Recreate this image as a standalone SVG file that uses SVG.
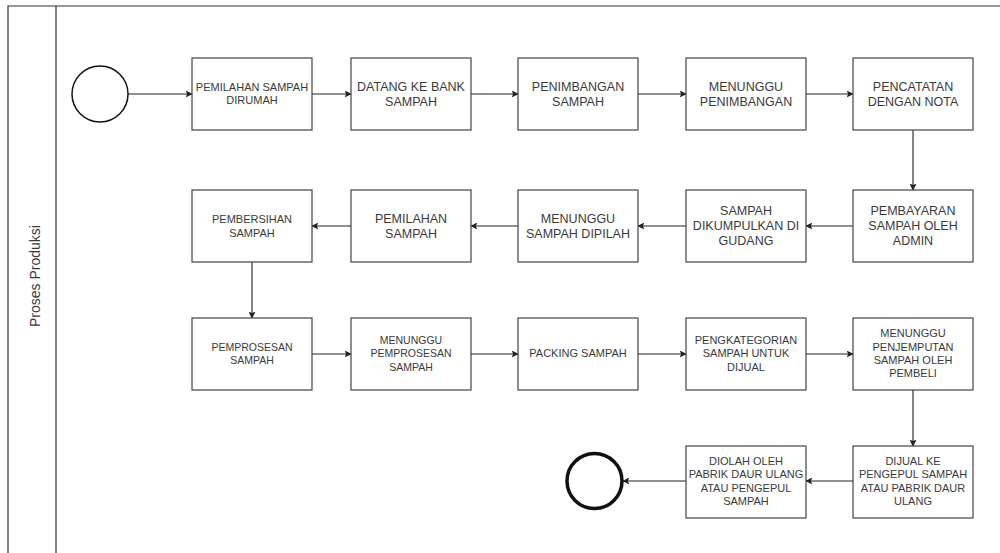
<svg xmlns="http://www.w3.org/2000/svg" width="1000" height="553" viewBox="0 0 1000 553">
<defs>
<style>
.box{fill:#fff;stroke:#444;stroke-width:1.2}
.t{font-family:"Liberation Sans",Arial,sans-serif;fill:#3a3a3a;text-anchor:middle}
.L{font-size:12.5px}
.S{font-size:11px}
.X{font-size:10.5px}
.c{fill:none;stroke:#222;stroke-width:1.1}
.lane{fill:none;stroke:#333;stroke-width:1.2}
</style>
<marker id="arr" viewBox="0 0 10 10" refX="9" refY="5" markerWidth="7" markerHeight="7" markerUnits="userSpaceOnUse" orient="auto">
<path d="M0,0 L10,5 L0,10 L2,5 z" fill="#222"/>
</marker>
</defs>
<rect width="1000" height="553" fill="#fff"/>
<g id="lane">
<path class="lane" d="M8,553 V6 H1000"/>
<path class="lane" d="M56,6 V553"/>
<text class="t" font-size="14" transform="translate(40,276) rotate(-90)">Proses Produksi</text>
</g>
<g id="connectors">
<path class="c" d="M128,94 H192" marker-end="url(#arr)"/>
<path class="c" d="M312,94 H351" marker-end="url(#arr)"/>
<path class="c" d="M471,94 H518" marker-end="url(#arr)"/>
<path class="c" d="M638,94 H686" marker-end="url(#arr)"/>
<path class="c" d="M806,94 H853" marker-end="url(#arr)"/>
<path class="c" d="M913,130 V190" marker-end="url(#arr)"/>
<path class="c" d="M853,226 H806" marker-end="url(#arr)"/>
<path class="c" d="M686,226 H638" marker-end="url(#arr)"/>
<path class="c" d="M518,226 H471" marker-end="url(#arr)"/>
<path class="c" d="M351,226 H312" marker-end="url(#arr)"/>
<path class="c" d="M252,262 V318" marker-end="url(#arr)"/>
<path class="c" d="M312,354 H351" marker-end="url(#arr)"/>
<path class="c" d="M471,354 H518" marker-end="url(#arr)"/>
<path class="c" d="M638,354 H686" marker-end="url(#arr)"/>
<path class="c" d="M806,354 H853" marker-end="url(#arr)"/>
<path class="c" d="M913,390 V446" marker-end="url(#arr)"/>
<path class="c" d="M853,481 H806" marker-end="url(#arr)"/>
<path class="c" d="M686,481 H623" marker-end="url(#arr)"/>
</g>
<g id="start"><circle cx="100" cy="94" r="28" fill="#fff" stroke="#111" stroke-width="1.5"/></g>
<g id="end"><circle cx="594.5" cy="481" r="27.5" fill="#fff" stroke="#111" stroke-width="3.5"/></g>
<g id="n1"><rect class="box" x="192" y="58" width="120" height="72"/><text class="t S"><tspan x="252" y="91.4">PEMILAHAN SAMPAH</tspan><tspan x="252" y="104.4">DIRUMAH</tspan></text></g>
<g id="n2"><rect class="box" x="351" y="58" width="120" height="72"/><text class="t L"><tspan x="411" y="91">DATANG KE BANK</tspan><tspan x="411" y="106">SAMPAH</tspan></text></g>
<g id="n3"><rect class="box" x="518" y="58" width="120" height="72"/><text class="t L"><tspan x="578" y="91">PENIMBANGAN</tspan><tspan x="578" y="106">SAMPAH</tspan></text></g>
<g id="n4"><rect class="box" x="686" y="58" width="120" height="72"/><text class="t L"><tspan x="746" y="91">MENUNGGU</tspan><tspan x="746" y="106">PENIMBANGAN</tspan></text></g>
<g id="n5"><rect class="box" x="853" y="58" width="120" height="72"/><text class="t L"><tspan x="913" y="91">PENCATATAN</tspan><tspan x="913" y="106">DENGAN NOTA</tspan></text></g>
<g id="n6"><rect class="box" x="853" y="190" width="120" height="72"/><text class="t L"><tspan x="913" y="215">PEMBAYARAN</tspan><tspan x="913" y="230">SAMPAH OLEH</tspan><tspan x="913" y="245">ADMIN</tspan></text></g>
<g id="n7"><rect class="box" x="686" y="190" width="120" height="72"/><text class="t L"><tspan x="746" y="215">SAMPAH</tspan><tspan x="746" y="230">DIKUMPULKAN DI</tspan><tspan x="746" y="245">GUDANG</tspan></text></g>
<g id="n8"><rect class="box" x="518" y="190" width="120" height="72"/><text class="t L"><tspan x="578" y="223">MENUNGGU</tspan><tspan x="578" y="238">SAMPAH DIPILAH</tspan></text></g>
<g id="n9"><rect class="box" x="351" y="190" width="120" height="72"/><text class="t L"><tspan x="411" y="223">PEMILAHAN</tspan><tspan x="411" y="238">SAMPAH</tspan></text></g>
<g id="n10"><rect class="box" x="192" y="190" width="120" height="72"/><text class="t S"><tspan x="252" y="223.2">PEMBERSIHAN</tspan><tspan x="252" y="236.7">SAMPAH</tspan></text></g>
<g id="n11"><rect class="box" x="192" y="318" width="120" height="72"/><text class="t X"><tspan x="252" y="350.5">PEMPROSESAN</tspan><tspan x="252" y="363.8">SAMPAH</tspan></text></g>
<g id="n12"><rect class="box" x="351" y="318" width="120" height="72"/><text class="t X"><tspan x="411" y="343.8">MENUNGGU</tspan><tspan x="411" y="357.1">PEMPROSESAN</tspan><tspan x="411" y="370.5">SAMPAH</tspan></text></g>
<g id="n13"><rect class="box" x="518" y="318" width="120" height="72"/><text class="t S"><tspan x="578" y="357.2">PACKING SAMPAH</tspan></text></g>
<g id="n14"><rect class="box" x="686" y="318" width="120" height="72"/><text class="t S"><tspan x="746" y="343.9">PENGKATEGORIAN</tspan><tspan x="746" y="357.2">SAMPAH UNTUK</tspan><tspan x="746" y="370.6">DIJUAL</tspan></text></g>
<g id="n15"><rect class="box" x="853" y="318" width="120" height="72"/><text class="t S"><tspan x="913" y="337.2">MENUNGGU</tspan><tspan x="913" y="350.6">PENJEMPUTAN</tspan><tspan x="913" y="363.9">SAMPAH OLEH</tspan><tspan x="913" y="377.2">PEMBELI</tspan></text></g>
<g id="n16"><rect class="box" x="853" y="446" width="120" height="72"/><text class="t S"><tspan x="913" y="465">DIJUAL KE</tspan><tspan x="913" y="478.3">PENGEPUL SAMPAH</tspan><tspan x="913" y="491.7">ATAU PABRIK DAUR</tspan><tspan x="913" y="505">ULANG</tspan></text></g>
<g id="n17"><rect class="box" x="686" y="446" width="120" height="72"/><text class="t S"><tspan x="746" y="465">DIOLAH OLEH</tspan><tspan x="746" y="478.3">PABRIK DAUR ULANG</tspan><tspan x="746" y="491.7">ATAU PENGEPUL</tspan><tspan x="746" y="505">SAMPAH</tspan></text></g>
</svg>
